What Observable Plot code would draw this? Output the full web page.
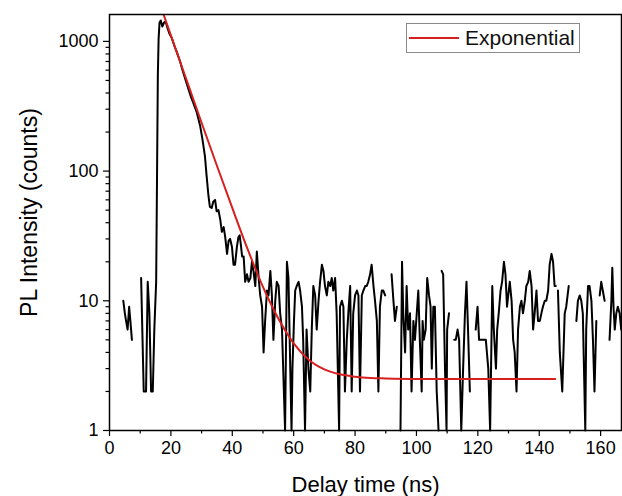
<!DOCTYPE html>
<html><head><meta charset="utf-8">
<script src="https://cdn.jsdelivr.net/npm/d3@7"></script>
<script src="https://cdn.jsdelivr.net/npm/@observablehq/plot@0.6"></script>
<style>
html,body{margin:0;padding:0;background:#fff;}
#wrap{position:relative;width:622px;height:496px;overflow:hidden;}
#legend{position:absolute;left:406px;top:23px;width:174px;height:30px;border:1px solid #8a8a8a;box-sizing:border-box;background:#fff;font-family:Arial,"Liberation Sans",sans-serif;font-size:21px;color:#111;}
#legend .sw{position:absolute;left:2px;top:13px;width:50px;height:2px;background:#d71f1f;}
#legend .lb{position:absolute;left:58px;top:0;line-height:28px;white-space:nowrap;}
</style></head><body>
<div id="wrap"></div>
<script>
// ---- data ----
const delayTime = [4.5,5.0,5.4,5.9,6.4,6.8,7.3,8.0,9.0,
10.3,11.15,11.9,12.45,13.0,13.55,14.1,14.6,15.2,15.5,15.75,16.0,16.3,16.7,17.2,17.8,18.3,18.9,19.5,20.3,21.1,21.9,23.0,23.7,24.6,25.7,26.6,27.3,28.4,29.5,30.3,31.1,31.6,32.2,32.7,33.3,33.8,34.4,34.9,
35.5,36.1,36.6,37.2,37.7,38.3,38.8,39.3,39.9,40.4,40.9,41.5,42.0,42.4,42.8,43.2,43.7,44.2,44.8,45.3,45.9,46.4,46.9,47.5,48.0,48.6,49.1,49.7,50.2,50.7,51.3,51.8,52.4,52.9,53.4,54.0,54.5,55.1,55.6,56.2,57.2,57.8,58.3,59.3,59.6,60.1,60.5,61.0,61.6,62.1,62.7,63.1,63.7,64.2,64.8,65.4,65.9,66.4,67.0,67.5,68.1,68.6,69.2,69.7,70.2,70.8,71.3,71.9,72.4,72.9,73.5,74.0,74.8,75.1,75.7,76.2,76.7,77.3,77.8,78.4,78.9,79.4,80.0,80.6,81.1,81.6,82.2,82.7,83.3,83.8,84.3,84.9,85.4,86.0,86.5,87.1,87.6,88.1,88.7,89.2,89.8,90.7,
91.9,92.5,93.0,93.6,94.1,94.8,95.3,95.7,96.3,96.8,97.3,97.9,98.4,99.0,99.5,100.1,100.6,101.1,101.7,102.0,102.4,103.0,103.5,104.1,104.6,105.0,105.5,106.0,106.6,107.2,107.6,108.2,108.7,109.3,109.8,110.0,110.6,111.4,112.3,112.8,113.4,113.9,114.6,115.2,115.8,116.3,116.8,117.4,118.4,119.3,119.9,120.4,121.2,121.9,122.6,123.4,124.0,124.7,125.2,125.9,126.3,126.8,127.4,127.9,128.5,129.0,129.5,129.9,130.4,131.0,131.5,132.0,132.6,133.1,133.7,134.2,134.7,135.3,135.8,136.4,136.9,137.5,138.0,138.5,139.1,139.6,140.2,140.7,141.2,141.8,142.3,142.9,143.4,144.0,144.5,145.0,145.4,145.8,146.1,146.7,147.5,148.3,148.8,149.6,150.7,152.1,152.6,153.2,153.7,154.2,155.0,155.3,155.9,156.4,157.0,157.5,158.0,158.6,159.1,159.7,160.2,160.7,161.3,162.1,162.9,163.5,163.8,164.2,164.6,165.1,165.6,166.2,166.7];
const counts = [10,8,7,6,9,7,5,0,0,
15,2,2,14,8,2,2,6,14,100,550,1050,1400,1450,1300,1400,1420,1270,1150,1060,930,830,700,610,520,430,370,335,285,225,175,130,94,66,53,52,58,60,49,
50,42,34,37,31,23,29,30,26,19,19,26,31,32,27,22,22,14,16,14,15,20,17,13,24,15,11,9,4,7,12,11,17,11,5,10,14,13,8,6,1,20,15,1,3,7,12,13,14,12,9,5,1,6,3,2,6,13,11,6,10,14,19,17,13,11,14,13,15,12,15,8,1,9,10,9,2,5,8,13,2,8,11,12,11,2,11,12,13,13,14,16,19,13,10,7,2,9,12,12,11,0,
16,10,7,9,0,1,20,8,4,13,6,8,2,7,5,8,12,5,2,7,5,6,15,11,9,3,9,9,2,1,0,17,16,3,1,6,8,0,5,5,6,5,1,3,8,14,6,2,0,6,9,5,5,5,5,3,1,13,6,3,6,8,12,14,20,16,9,11,14,10,5,4,2,6,9,10,8,10,13,14,17,13,6,8,12,7,7,8,9,10,10,12,19,23,20,13,13,0,12,4,2,8,9,13,0,7,10,11,10,8,1,6,13,13,10,5,2,7,0,11,14,12,10,0,5,10,18,9,6,8,9,8,6];
const fitTime = [17.0,20,25,30,35,40,45,50,55,60,65,70,75,80,85,90,100,120,145.2];
const fitCounts = [1774,1112,512,236,110,52,25,12.8,7.3,4.7,3.5,2.96,2.71,2.6,2.54,2.52,2.5,2.5,2.5];
const seriesNames = ["Exponential"];
const xMajorTicks = [0,20,40,60,80,100,120,140,160];
const xMinorTicks = [10,30,50,70,90,110,130,150];
const yMajorTicks = [1,10,100,1000];
const yTickLabels = ["1","10","100","1000"];
const yMinorTicks = [2,3,4,5,6,7,8,9,20,30,40,50,60,70,80,90,200,300,400,500,600,700,800,900];
const xTitle = "Delay time (ns)";
const yTitle = "PL Intensity (counts)";

const measured = delayTime.map((t, i) => ({t, c: counts[i]}));
const fitted = fitTime.map((t, i) => ({t, c: fitCounts[i]}));

const chart = Plot.plot({
  width: 622, height: 496,
  marginLeft: 109, marginRight: 1, marginTop: 14, marginBottom: 66,
  style: {fontFamily: "Arial, 'Liberation Sans', sans-serif", fontSize: "18px", color: "#000", background: "#fff", overflow: "visible"},
  x: {domain: [0, 166.8]},
  y: {type: "log", domain: [1, 1612]},
  marks: [
    Plot.line(measured, {x: "t", y: d => d.c > 0 ? d.c : NaN, stroke: "#000", strokeWidth: 2, strokeLinejoin: "round"}),
    Plot.line(fitted, {x: "t", y: "c", stroke: "#d71f1f", strokeWidth: 2, curve: "monotone-x", clip: true}),
    Plot.axisX({ticks: xMajorTicks, tickSize: 6, tickPadding: 5, tickFormat: d => String(d), label: null, strokeWidth: 1.2}),
    Plot.axisX({ticks: xMinorTicks, tickSize: 3.5, tickFormat: () => "", label: null, strokeWidth: 1.2}),
    Plot.axisY({ticks: yMajorTicks, tickSize: 6, tickPadding: 5, tickFormat: d => yTickLabels[yMajorTicks.indexOf(d)], label: null, strokeWidth: 1.2}),
    Plot.axisY({ticks: yMinorTicks, tickSize: 3.5, tickFormat: () => "", label: null, strokeWidth: 1.2}),
    Plot.frame({stroke: "#000", strokeWidth: 1.5}),
    Plot.text([xTitle], {text: d => d, frameAnchor: "bottom", textAnchor: "middle", lineAnchor: "middle", dy: 54, fontSize: 22, fill: "#000"}),
    Plot.text([yTitle], {text: d => d, frameAnchor: "left", textAnchor: "middle", lineAnchor: "middle", dx: -80, dy: -10, rotate: -90, fontSize: 23, fill: "#000"})
  ]
});
const wrap = document.getElementById("wrap");
wrap.appendChild(chart);
const lg = document.createElement("div");
lg.id = "legend";
lg.innerHTML = `<div class="sw"></div><div class="lb">${seriesNames[0]}</div>`;
wrap.appendChild(lg);
</script>
</body></html>
